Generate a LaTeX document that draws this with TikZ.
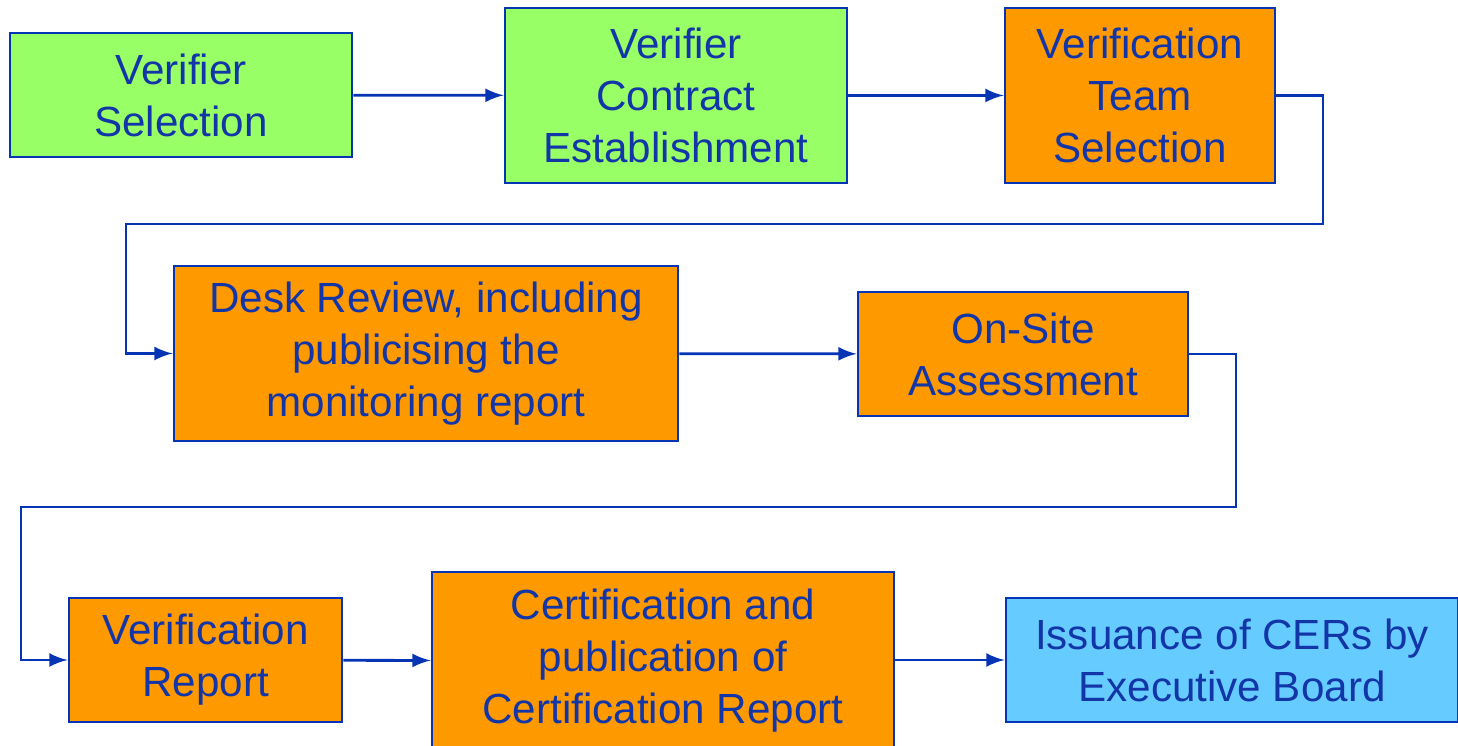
\documentclass[tikz,border=0pt]{standalone}
\usepackage{fontspec}
\setmainfont{Liberation Sans}
\usepackage{xcolor}
\usepackage{tikz}
\usetikzlibrary{shapes,arrows}
\usetikzlibrary{calc}
\usetikzlibrary{positioning}

\definecolor{stepgreen}{HTML}{99FF66}
\definecolor{steporange}{HTML}{FF9900}
\definecolor{stepblue}{HTML}{66CCFF}
\definecolor{stepline}{HTML}{0535B5}
\definecolor{steptext}{HTML}{1236A8}

\begin{document}
\begin{tikzpicture}[step_box/.style={rectangle,draw=stepline,line width=0.8pt,text=steptext,align=center,inner sep=0pt,font=\fontsize{12}{14.8}\selectfont},
		green_box/.style={step_box,fill=stepgreen},
		orange_box/.style={step_box,fill=steporange},
		blue_box/.style={step_box,fill=stepblue},
		link/.style={color=stepline,line width=0.8pt,-latex}]
				\useasboundingbox (0,0) rectangle (14.58,-7.46);
				\node[green_box, minimum width=3.42cm, minimum height=1.24cm] (1) at (1.81, -0.95) {Verifier\\Selection};
				\node[green_box, minimum width=3.42cm, minimum height=1.75cm] (2) at (6.76, -0.955) {Verifier\\Contract\\Establishment};
				\node[orange_box, minimum width=2.70cm, minimum height=1.75cm] (3) at (11.40, -0.955) {Verification\\Team\\Selection};
				\node[orange_box, minimum width=5.04cm, minimum height=1.75cm] (4) at (4.26, -3.535) {Desk Review, including\\publicising the\\monitoring report};
				\node[orange_box, minimum width=3.30cm, minimum height=1.24cm] (5) at (10.23, -3.54) {On-Site\\Assessment};
				\node[orange_box, minimum width=2.73cm, minimum height=1.24cm] (6) at (2.055, -6.60) {Verification\\Report};
				\node[orange_box, minimum width=4.62cm, minimum height=1.78cm] (7) at (6.63, -6.61) {Certification and\\publication of\\Certification Report};
				\node[blue_box, minimum width=4.52cm, minimum height=1.24cm] (8) at (12.32, -6.60) {Issuance of CERs by\\Executive Board};
				
				% corners of the two return lines
				\coordinate (r1) at (13.23, -2.24);
				\coordinate (l1) at (1.26, -2.24);
				\coordinate (r2) at (12.36, -5.07);
				\coordinate (l2) at (0.21, -5.07);
				
				\path[link]
				(1) edge (2)
				(2) edge (3)
				(4) edge (5)
				(6) edge (7);
				\draw[link] (7.east |- 8.west) -- (8.west);
				\draw[link] (3.east) -| (r1) -- (l1) |- (4.west);
				\draw[link] (5.east) -| (r2) -- (l2) |- (6.west);
			\end{tikzpicture}
\end{document}
